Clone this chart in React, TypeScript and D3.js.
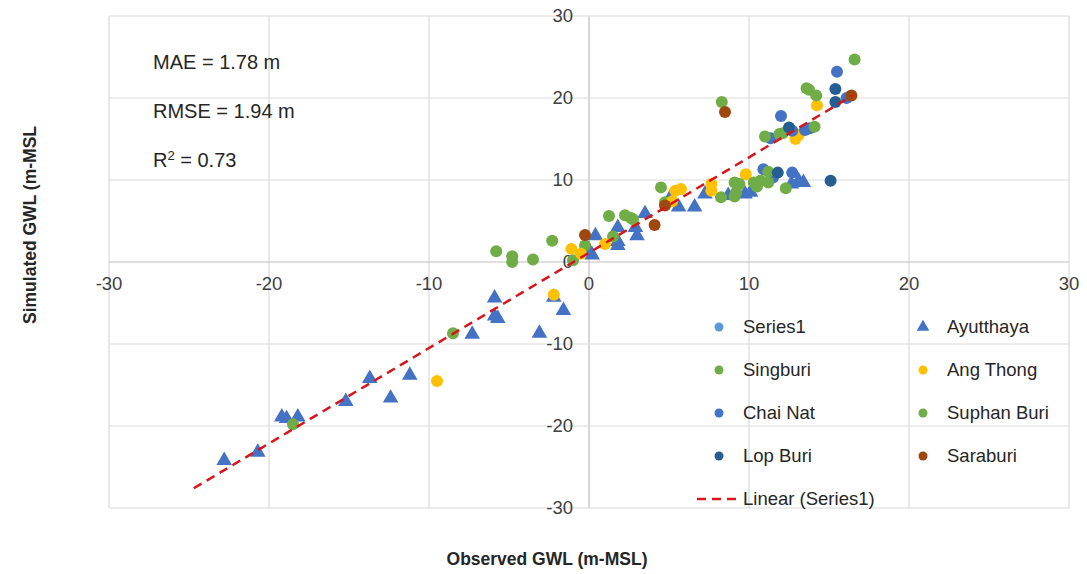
import React from "react";
import * as d3 from "d3";

type P = [number, number];

const xTicks = [-30, -20, -10, 0, 10, 20, 30];
const yTicks = [-30, -20, -10, 0, 10, 20, 30];

const ayutthaya: P[] = [
  [-22.8, -24.2], [-20.7, -23.2], [-19.2, -18.9], [-18.9, -19.1], [-18.2, -18.9],
  [-15.2, -17.0], [-13.7, -14.2], [-12.4, -16.6], [-11.2, -13.8], [-7.3, -8.8],
  [-5.9, -4.4], [-5.9, -6.6], [-5.7, -6.9], [-3.1, -8.7], [-2.2, -4.3], [-1.6, -5.9],
  [0.2, 0.85], [0.06, 1.2], [0.4, 3.2], [1.8, 4.2], [1.8, 2.5], [1.8, 2.0],
  [2.9, 4.2], [3.0, 3.2], [3.5, 5.9], [5.1, 7.9], [5.6, 6.7], [6.6, 6.7],
  [7.25, 8.3], [8.7, 8.1], [9.75, 8.3], [10.1, 8.5], [12.65, 9.5], [13.1, 9.9], [13.4, 9.7],
];
const singburi: P[] = [
  [-18.5, -19.8], [-8.5, -8.7], [-5.8, 1.3], [-4.8, 0.7], [-4.8, 0.0], [-3.5, 0.3],
  [-2.3, 2.6], [-1.0, 0.2], [-0.25, 2.0], [1.25, 5.6], [1.5, 3.1], [2.25, 5.7],
  [2.6, 5.4], [2.75, 5.2], [4.5, 9.1], [4.75, 7.3], [8.25, 7.9], [9.1, 9.7],
];
const angThong: P[] = [
  [-9.5, -14.5], [-2.2, -4.0], [-1.1, 1.6], [-0.5, 1.0], [1.0, 2.2], [5.2, 7.4],
  [5.4, 8.7], [5.75, 8.9], [7.65, 9.5], [7.65, 8.7], [9.8, 10.7], [12.9, 15.0],
  [13.1, 15.5], [14.25, 19.1],
];
const chaiNat: P[] = [
  [10.9, 11.3], [11.5, 10.3], [12.7, 10.9], [11.35, 15.1], [12.0, 17.8], [12.7, 16.0],
  [13.5, 16.1], [13.8, 16.3], [15.5, 23.2], [16.1, 20.0],
];
const suphanBuri: P[] = [
  [8.3, 19.5], [9.4, 9.5], [9.2, 8.5], [9.1, 8.0], [10.3, 9.7], [10.5, 9.2],
  [10.7, 9.9], [11.2, 11.0], [11.2, 9.7], [12.3, 9.0], [11.0, 15.3], [11.9, 15.6],
  [12.1, 15.7], [14.1, 16.5], [13.6, 21.2], [13.75, 21.0], [14.2, 20.3], [16.6, 24.7],
];
const lopBuri: P[] = [
  [11.8, 10.9], [12.5, 16.4], [15.1, 9.9], [15.4, 21.1], [15.4, 19.5],
];
const saraburi: P[] = [
  [-0.25, 3.3], [4.1, 4.5], [4.75, 6.9], [8.5, 18.3], [16.4, 20.3],
];

// Linear trendline (Series1)
const trendSlope = 1.163;
const trendIntercept = 1.13;
const trendRange: [number, number] = [-24.7, 16.5];

const stats = ["MAE = 1.78 m", "RMSE = 1.94 m"];

type S = { name: string; color: string; shape: "circle" | "triangle"; data: P[] };
const series: S[] = [
  { name: "Series1", color: "#5B9BD5", shape: "circle", data: [] },
  { name: "Ayutthaya", color: "#4472C4", shape: "triangle", data: ayutthaya },
  { name: "Singburi", color: "#70AD47", shape: "circle", data: singburi },
  { name: "Ang Thong", color: "#FFC000", shape: "circle", data: angThong },
  { name: "Chai Nat", color: "#4472C4", shape: "circle", data: chaiNat },
  { name: "Suphan Buri", color: "#70AD47", shape: "circle", data: suphanBuri },
  { name: "Lop Buri", color: "#255E91", shape: "circle", data: lopBuri },
  { name: "Saraburi", color: "#9E480E", shape: "circle", data: saraburi },
];

const W = 1087;
const H = 574;
const FONT = "'Liberation Sans', Arial, sans-serif";

export default function App() {
  const x = d3.scaleLinear().domain([-30, 30]).range([109, 1069]);
  const y = d3.scaleLinear().domain([-30, 30]).range([508, 16]);
  const tri = d3.symbol().type(d3.symbolTriangle).size(105)() as string;
  const triLegend = d3.symbol().type(d3.symbolTriangle).size(70)() as string;
  const line = d3.line<number>().x((v) => x(v)).y((v) => y(trendSlope * v + trendIntercept));

  const legendCols = [719, 923];
  const legendRows = [327, 370, 413, 456];

  return (
    <svg width={W} height={H} style={{ position: "absolute", left: 0, top: 0, background: "#fff" }} fontFamily={FONT}>
      <rect width={W} height={H} fill="#fff" />
      {/* grid */}
      {xTicks.map((t) => (
        <line key={"gx" + t} x1={x(t)} x2={x(t)} y1={y(30)} y2={y(-30)} stroke={t === 0 ? "#BFBFBF" : "#D9D9D9"} strokeWidth={1.2} />
      ))}
      {yTicks.map((t) => (
        <line key={"gy" + t} x1={x(-30)} x2={x(30)} y1={y(t)} y2={y(t)} stroke={t === 0 ? "#BFBFBF" : "#D9D9D9"} strokeWidth={1.2} />
      ))}
      {/* tick labels */}
      {xTicks.map((t) => (
        <text key={"tx" + t} x={x(t)} y={y(0) + 28} textAnchor="middle" fontSize={18.5} fill="#404040">{t}</text>
      ))}
      {yTicks.map((t) => (
        <text key={"ty" + t} x={x(0) - 16} y={y(t)} dy="0.35em" textAnchor="end" fontSize={18.5} fill="#404040">{t}</text>
      ))}
      {/* points */}
      {series.map((s) =>
        s.data.map((p, i) =>
          s.shape === "triangle" ? (
            <path key={s.name + i} d={tri} transform={`translate(${x(p[0])},${y(p[1])})`} fill={s.color} />
          ) : (
            <circle key={s.name + i} cx={x(p[0])} cy={y(p[1])} r={6} fill={s.color} />
          )
        )
      )}
      {/* trendline */}
      <path d={line(trendRange) as string} fill="none" stroke="#D8141C" strokeWidth={2.5} strokeDasharray="9,6" />
      {/* stats */}
      {stats.map((s, i) => (
        <text key={s} x={153} y={69 + i * 49} fontSize={20} fill="#262626">{s}</text>
      ))}
      <text x={153} y={167} fontSize={20} fill="#262626">
        R<tspan dy={-7} fontSize={13}>2</tspan><tspan dy={7}> = 0.73</tspan>
      </text>
      {/* legend */}
      {series.map((s, i) => {
        const col = i % 2;
        const row = Math.floor(i / 2);
        const cx = legendCols[col];
        const cy = legendRows[row];
        return (
          <g key={"lg" + s.name}>
            {s.shape === "triangle" ? (
              <path d={triLegend} transform={`translate(${cx},${cy})`} fill={s.color} />
            ) : (
              <circle cx={cx} cy={cy} r={4.5} fill={s.color} />
            )}
            <text x={cx + 24} y={cy} dy="0.35em" fontSize={18.5} fill="#262626">{s.name}</text>
          </g>
        );
      })}
      <line x1={697} x2={740} y1={499} y2={499} stroke="#D8141C" strokeWidth={2.5} strokeDasharray="9,6" />
      <text x={743} y={499} dy="0.35em" fontSize={18.5} fill="#262626">Linear (Series1)</text>
      {/* axis titles */}
      <text x={547} y={565} textAnchor="middle" fontSize={17.5} fontWeight="bold" fill="#262626">Observed GWL (m-MSL)</text>
      <text transform="translate(36,225) rotate(-90)" textAnchor="middle" fontSize={17.5} fontWeight="bold" fill="#262626">Simulated GWL (m-MSL</text>
    </svg>
  );
}
